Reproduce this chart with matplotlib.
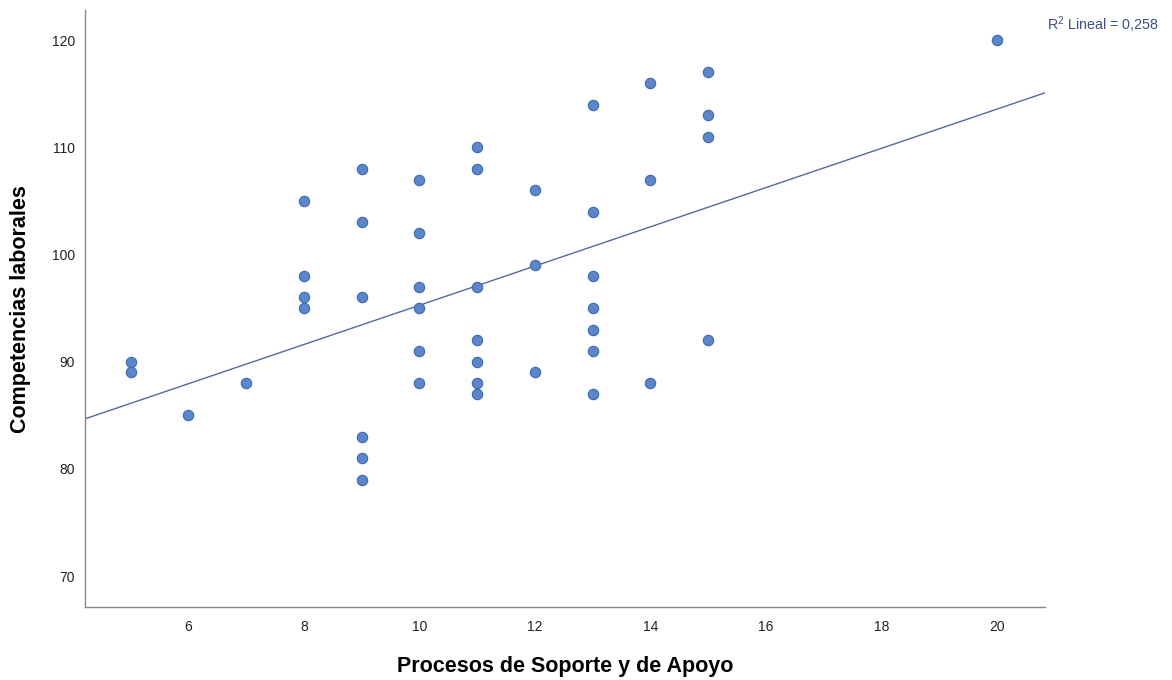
import matplotlib
matplotlib.use("Agg")
import matplotlib.pyplot as plt
import numpy as np

plt.rcParams['font.family'] = ['Liberation Sans', 'DejaVu Sans']
plt.rcParams['mathtext.default'] = 'regular'

# Procesos de Soporte y de Apoyo (x) vs Competencias laborales (y)
soporte = [5, 5, 6, 7,
           8, 8, 8, 8,
           9, 9, 9, 9, 9, 9,
           10, 10, 10, 10, 10, 10,
           11, 11, 11, 11, 11, 11, 11,
           12, 12, 12,
           13, 13, 13, 13, 13, 13, 13,
           14, 14, 14,
           15, 15, 15, 15,
           20]
competencias = [90, 89, 85, 88,
                105, 98, 96, 95,
                108, 103, 96, 83, 81, 79,
                107, 102, 97, 95, 91, 88,
                110, 108, 97, 92, 90, 88, 87,
                106, 99, 89,
                114, 104, 98, 95, 93, 91, 87,
                116, 107, 88,
                117, 113, 111, 92,
                120]
# linear fit line
fit_slope = 1.83
fit_intercept = 76.97
r2_label = "R$^{2}$ Lineal = 0,258"

x = np.array(soporte, dtype=float)
y = np.array(competencias, dtype=float)

fig = plt.figure(figsize=(11.72, 6.8), dpi=100)
ax = fig.add_axes([0.0725, 0.107, 0.819, 0.878])

xmin, xmax = 4.21, 20.83
ax.set_xlim(xmin, xmax)
ax.set_ylim(67.1, 122.8)

xs = np.array([xmin, xmax])
ax.plot(xs, fit_intercept + fit_slope * xs, color='#5568a3', lw=1.0, zorder=2)
ax.scatter(x, y, s=56, color='#5b86c9', edgecolors='#3d69b0', linewidths=0.8, zorder=3)

ax.set_xticks([6, 8, 10, 12, 14, 16, 18, 20])
ax.set_yticks([70, 80, 90, 100, 110, 120])
ax.tick_params(length=0, labelsize=10, colors='#222222')
ax.tick_params(axis='x', pad=9)
ax.tick_params(axis='y', pad=7)

for s in ['top', 'right']:
    ax.spines[s].set_visible(False)
for s in ['left', 'bottom']:
    ax.spines[s].set_color('#888888')
    ax.spines[s].set_linewidth(1.0)

ax.set_xlabel('Procesos de Soporte y de Apoyo', fontsize=15.5, fontweight='bold', va='center')
ax.xaxis.set_label_coords(0.5, (607 - 666) / 597)
ax.set_ylabel('Competencias laborales', fontsize=15.5, fontweight='bold', va='center')
ax.yaxis.set_label_coords((21 - 85) / 960, 0.5)

fig.text(0.8935, 0.964, r2_label, fontsize=10.3, color='#3d4f86', ha='left', va='center')

fig.savefig('out.png', dpi=100, facecolor='white')
